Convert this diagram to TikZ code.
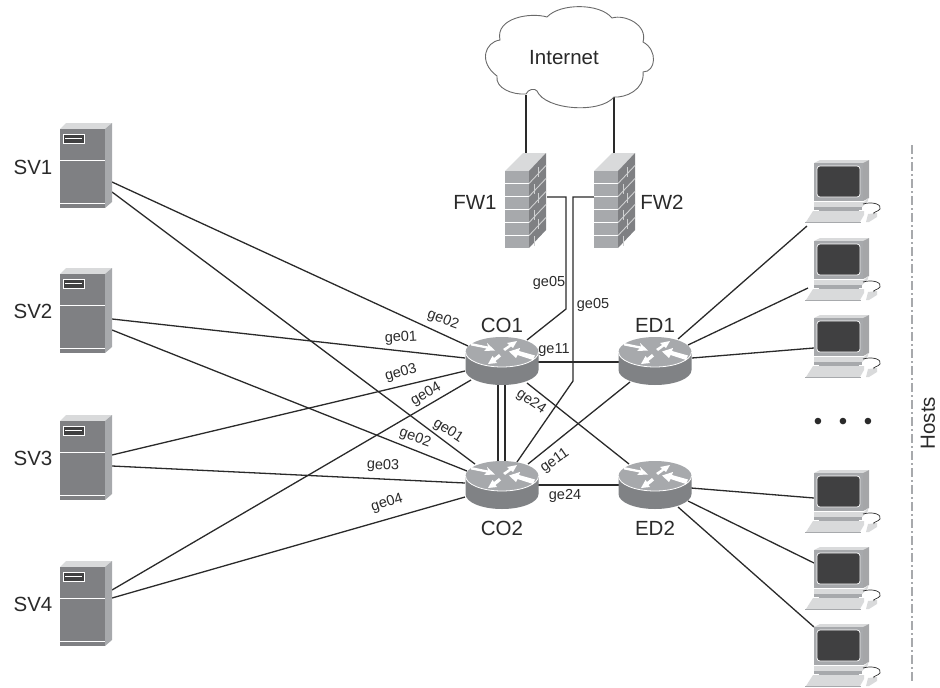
\documentclass[tikz,border=0pt]{standalone}
\usepackage{fontspec}
\setmainfont{Liberation Sans}
\usetikzlibrary{arrows.meta,calc}
\definecolor{inkc}{HTML}{2A2A2A}
\definecolor{frontg}{HTML}{7F8083}
\definecolor{sideg}{HTML}{A7A9AC}
\definecolor{topg}{HTML}{D9DADB}
\definecolor{darkscr}{HTML}{404041}
\definecolor{rtop}{HTML}{A7A9AC}
\definecolor{rside}{HTML}{808285}
\tikzset{
  link/.style={draw=inkc,line width=1.3pt},
  big/.style={font=\fontsize{20.5}{22}\selectfont,text=inkc,inner sep=0pt},
  port/.style={font=\fontsize{14.5}{16}\selectfont,text=inkc,inner sep=0pt},
  white edge/.style={draw=white,line width=0.8pt},
}
\newcommand{\serverat}[2]{%
 \begin{scope}[shift={(#1,#2)}]
  \fill[topg] (0,0)--(6,-6)--(52,-6)--(45,0)--cycle;
  \fill[sideg] (45,0)--(52,-6)--(52,73)--(45,79)--cycle;
  \fill[frontg] (0,0) rectangle (45,79);
  \draw[white edge] (0,31)--(45,31);
  \draw[white edge] (0,74)--(45,74);
  \draw[white edge] (0,79)--(45,79);
  \fill[darkscr] (3,5) rectangle (24,14);
  \draw[white,line width=0.7pt] (3,5) rectangle (24,14);
  \draw[white,line width=0.8pt] (5,9.7)--(22,9.7);
 \end{scope}}
\newcommand{\routerat}[2]{%
 \begin{scope}[shift={(#1,#2)}]
  \fill[rside] (-36.5,0) -- (-36.5,18) arc[start angle=180,end angle=0,x radius=36.5,y radius=15] -- (36.5,0) -- cycle;
  \fill[rtop] (0,0) ellipse[x radius=36.5,y radius=15];
  \draw[white,line width=0.8pt] (-36.5,0) arc[start angle=180,end angle=0,x radius=36.5,y radius=15];
  \fill[white] (-31,-9)--(-14,-5.5)--(-15,-9)--(-7,-1.5)--(-18,-1)--(-15.5,-3.5)--(-31,-6.5)--cycle;
  \fill[white] (1,-3)--(7,-7)--(5,-9)--(15,-11)--(11,-4)--(9,-5.5)--(3,-1)--cycle;
  \fill[white] (33,3.5)--(17,-1)--(18,-4)--(7,-0.5)--(14,6)--(15.5,3)--(31,8)--cycle;
  \fill[white] (-3,2)--(-8,6)--(-9.5,4)--(-14,12)--(-5,11)--(-6.5,9)--(-1,4.5)--cycle;
 \end{scope}}
\newcommand{\firewallat}[2]{%
 \begin{scope}[shift={(#1,#2)}]
  \fill[topg] (0,0)--(18,-18)--(41,-18)--(24,0)--cycle;
  \fill[frontg] (24,0)--(41,-18)--(41,59)--(24,77)--cycle;
  \fill[sideg] (0,0) rectangle (24,77);
  \foreach \y in {12.5,25.5,38.5,51.5,64.5}{\draw[white edge] (0,\y)--(24,\y);}
  \foreach \y in {12.5,25.5,38.5,51.5,64.5}{\draw[sideg!55!white,line width=0.9pt] (24,\y)--(41,\y-18);}
  \foreach \y/\x in {6/33,19/29,32/33,45/29,58/33,71/29}{\draw[sideg!55!white,line width=0.9pt] (\x,\y-1-\x+24)--(\x,\y+9-\x+24);}
 \end{scope}}
\newcommand{\hostat}[2]{%
 \begin{scope}[shift={(#1,#2)}]
  \fill[topg] (0,0)--(6,-3)--(55,-3)--(49,0)--cycle;
  \fill[frontg!70!white] (49,0)--(55,-3)--(55,35)--(49,38)--cycle;
  \fill[sideg] (0,0) rectangle (49,38);
  \fill[darkscr,rounded corners=3pt] (3,3) rectangle (46,34);
  \draw[white,line width=0.7pt,rounded corners=3pt] (3,3) rectangle (46,34);
  \fill[sideg] (5,47) rectangle (45,50);
  \fill[topg] (0,39)--(50,39)--(54,35)--(54,38)--(48,44)--(0,44)--cycle;
  \fill[sideg] (0,44) rectangle (48,47);
  \fill[topg] (-1,48)--(50,48)--(50,52)--(46,59)--(-8,59)--cycle;
  \fill[sideg] (-9,59) rectangle (47,60);
  \fill[topg] (54,51)--(63,50)--(63,54)--(55,59)--(52,59)--cycle;
  \draw[inkc,line width=0.7pt] (49,41) .. controls (60,38) and (68,42) .. (66,46) .. controls (64,49) and (58,49) .. (60,51);
 \end{scope}}
\begin{document}
\begin{tikzpicture}[x=1pt,y=-1pt]
\useasboundingbox (0,0) rectangle (940,688);
% connection points
\foreach \n/\x/\y in {
 sa/112/182, sb/112/192, sc/112/319, sd/112/330, se/112/455, sf/112/466, sg/112/590, sh/112/598,
 oa/468/346, ob/475/464, oc/465/358, od/467/471, oe/465/371, of/465/483, og/471/380, oh/465/497,
 ca/527/340, cb/517/462, cc/538/362, cd/619/362, ce/538/485, cf/619/485,
 cg/498/385, ch/498/461, ci/505/385, cj/505/461,
 ck/630/382, cl/528/464, cm/527/383, cn/629/464,
 fa/547/197, fb/594/197, fc/526/95, fd/526/153, fe/614/97, ff/614/153,
 bend1/566/197, bend2/566/309, bend3/573/197, bend4/573/381,
 ha/678/339, hb/807/226, hc/688/345, hd/808/288, he/692/358, hf/814/348,
 ia/691/488, ib/814/498, ic/688/501, id/814/563, ie/678/507, if/814/627,
 dda/912/145, ddb/912/682}
 {\coordinate (\n) at (\x,\y);}
\draw[link] (sa)--(oa); \draw[link] (sb)--(ob);
\draw[link] (sc)--(oc); \draw[link] (sd)--(od);
\draw[link] (se)--(oe); \draw[link] (sf)--(of);
\draw[link] (sg)--(og); \draw[link] (sh)--(oh);
\draw[link] (cc)--(cd); \draw[link] (ce)--(cf);
\draw[link] (cg)--(ch); \draw[link] (ci)--(cj);
\draw[link] (ck)--(cl); \draw[link] (cm)--(cn);
\draw[link] (fa)--(bend1)--(bend2)--(ca);
\draw[link] (fb)--(bend3)--(bend4)--(cb);
\draw[link] (fc)--(fd); \draw[link] (fe)--(ff);
\draw[link] (ha)--(hb); \draw[link] (hc)--(hd); \draw[link] (he)--(hf);
\draw[link] (ia)--(ib); \draw[link] (ic)--(id); \draw[link] (ie)--(if);
\draw[sideg,line width=1.1pt,dash pattern=on 9pt off 3pt on 2pt off 3pt] (dda)--(ddb);
% icons
\serverat{60}{129}\serverat{60}{274}\serverat{60}{421}\serverat{60}{567}
\routerat{502}{352}\routerat{655}{352}\routerat{502}{476}\routerat{655}{476}
\firewallat{505}{171}\firewallat{594}{171}
\foreach \y in {163,241,318,473,550,627}{\hostat{814}{\y}}
% cloud
\draw[fill=white,draw=inkc!70,line width=0.9pt]
 (526,94) .. controls (528,89) and (535,88) .. (537,91)
 .. controls (545,110) and (600,114) .. (614,97)
 .. controls (625,98) and (645,90) .. (643,72)
 .. controls (656,72) and (658,50) .. (643,42)
 .. controls (648,25) and (625,14) .. (612,18)
 .. controls (600,3) and (560,3) .. (547,17)
 .. controls (530,12) and (495,18) .. (500,40)
 .. controls (485,42) and (478,62) .. (497,76)
 .. controls (495,88) and (512,95) .. (526,94) -- cycle;
% text
\node[big] (tnet) at (564,58) {Internet};
\node[big] (tsv1) at (33,167) {SV1};
\node[big] (tsv2) at (33,311) {SV2};
\node[big] (tsv3) at (33,458) {SV3};
\node[big] (tsv4) at (33,604) {SV4};
\node[big] (tfw1) at (475,202) {FW1};
\node[big] (tfw2) at (662,202) {FW2};
\node[big] (tco1) at (502,325) {CO1};
\node[big] (ted1) at (655,325) {ED1};
\node[big] (tco2) at (502,528) {CO2};
\node[big] (ted2) at (655,528) {ED2};
\node[big,rotate=90] (thosts) at (928,423) {Hosts};
\node[font=\fontsize{24}{26}\selectfont,text=inkc,inner sep=0pt] (tdots) at (843,424) {\textbullet\hspace{16.6pt}\textbullet\hspace{16.6pt}\textbullet};
\node[port,rotate=-20] (g1) at (443,320) {ge02};
\node[port,rotate=3] (g2) at (401,338) {ge01};
\node[port,rotate=15] (g3) at (401,373) {ge03};
\node[port,rotate=30] (g4) at (426,394) {ge04};
\node[port,rotate=-20] (g5) at (415,438) {ge02};
\node[port,rotate=-33] (g6) at (448,431) {ge01};
\node[port,rotate=-2] (g7) at (383,466) {ge03};
\node[port,rotate=17] (g8) at (387,503) {ge04};
\node[port] (g9) at (549,283) {ge05};
\node[port] (g10) at (593,305) {ge05};
\node[port] (g11) at (554,350) {ge11};
\node[port,rotate=-35] (g12) at (531,402) {ge24};
\node[port,rotate=35] (g13) at (555,461) {ge11};
\node[port] (g14) at (565,496) {ge24};
\end{tikzpicture}
\end{document}
